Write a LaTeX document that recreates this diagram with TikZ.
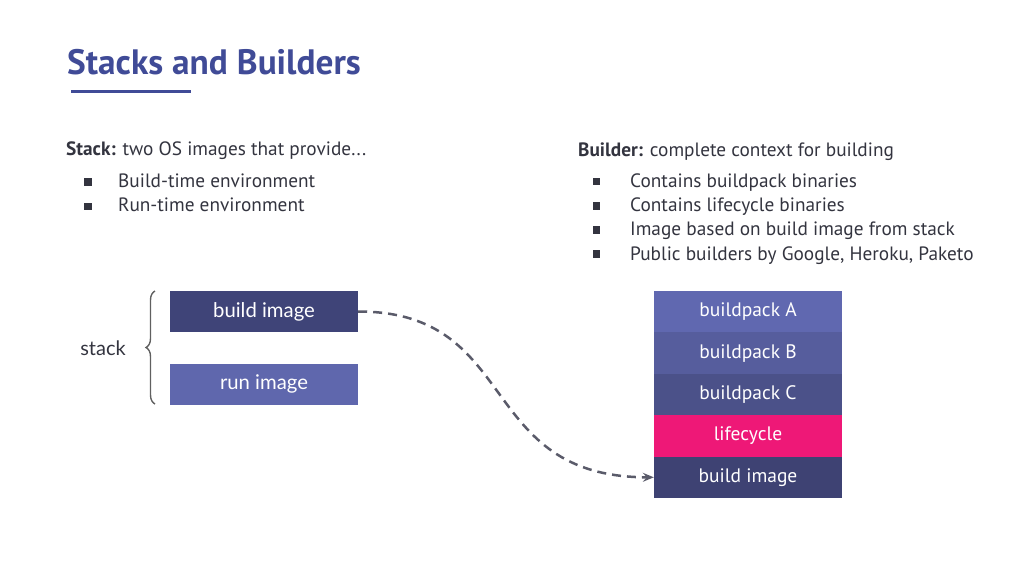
\documentclass[tikz,border=0pt]{standalone}
\usepackage{fontspec}
\setmainfont{PT Sans}
\newfontfamily\boxfont{Lato}
\usetikzlibrary{arrows.meta,decorations.pathreplacing}
\definecolor{titleblue}{HTML}{404B97}
\definecolor{txt}{HTML}{33343F}
\definecolor{darkbox}{HTML}{3F4478}
\definecolor{runbox}{HTML}{5F67AD}
\definecolor{bpa}{HTML}{6068B0}
\definecolor{bpb}{HTML}{565D9D}
\definecolor{bpc}{HTML}{4B5189}
\definecolor{pink}{HTML}{EE1877}
\definecolor{bib}{HTML}{3E4273}
\definecolor{arrowgray}{HTML}{5A5B6A}
\tikzset{
  body/.style={anchor=base west, text=txt, font=\fontsize{19.3}{22}\selectfont, inner sep=0},
  bul/.style={fill=txt, minimum size=7.5pt, inner sep=0},
  lbox/.style={minimum width=188pt, minimum height=41pt, inner sep=0, text=white, font=\boxfont\fontsize{20.3}{22}\selectfont},
  rbox/.style={minimum width=188pt, minimum height=41.4pt, inner sep=0, text=white, font=\fontsize{19.5}{22}\selectfont},
}
\begin{document}
\begin{tikzpicture}[x=1pt,y=-1pt]
\useasboundingbox (0,0) rectangle (1024,576);
% title
\node[anchor=base west, inner sep=0, text=titleblue, font=\bfseries\fontsize{35.3}{38}\selectfont] (title) at (67,74.5) {Stacks and Builders};
\draw[titleblue, line width=3pt] (71,91.5) -- (191,91.5);
% left text
\node[body] (stackhead) at (66,155.5) {\textbf{Stack:} two OS images that provide...};
\node[bul] (lb1) at (88,182) {};
\node[body] (lt1) at (118,187.3) {Build-time environment};
\node[bul] (lb2) at (88,206.5) {};
\node[body] (lt2) at (118,211.5) {Run-time environment};
% right text
\node[body] (buildhead) at (578,156) {\textbf{Builder:} complete context for building};
\node[bul] (rb1) at (596.5,181.5) {};
\node[body] (rt1) at (630,187) {Contains buildpack binaries};
\node[bul] (rb2) at (596.5,206) {};
\node[body] (rt2) at (630,211.5) {Contains lifecycle binaries};
\node[bul] (rb3) at (596.5,230) {};
\node[body] (rt3) at (630,235.5) {Image based on build image from stack};
\node[bul] (rb4) at (596.5,254) {};
\node[body] (rt4) at (630,260) {Public builders by Google, Heroku, Paketo};
% left stack
\node[lbox, fill=darkbox] (build) at (264,311.5) {build image};
\node[lbox, fill=runbox] (run) at (264,384) {run image};
\draw[gray!75!black, line width=1.4pt, decorate, decoration={brace, amplitude=9pt, aspect=0.5}] (155,404) -- (155,291) coordinate[pos=0.5] (bracetip);
\node[anchor=east, text=txt, inner sep=0, font=\boxfont\fontsize{20}{22}\selectfont] (stacklbl) at (126,348) {stack};
% right stack
\node[rbox, fill=bpa] (bpA) at (748,311.7) {buildpack A};
\node[rbox, fill=bpb] (bpB) at (748,353.1) {buildpack B};
\node[rbox, fill=bpc] (bpC) at (748,394.5) {buildpack C};
\node[rbox, fill=pink] (lc) at (748,435.9) {lifecycle};
\node[rbox, fill=bib] (bimg) at (748,477.3) {build image};
% arrow
\draw[arrowgray, line width=2.5pt, dash pattern=on 9pt off 6pt, -{Stealth[length=11pt,width=9pt,inset=4pt]}]
  (build.east) .. controls (522,311.5) and (475,477.3) .. (bimg.west);
\end{tikzpicture}
\end{document}
